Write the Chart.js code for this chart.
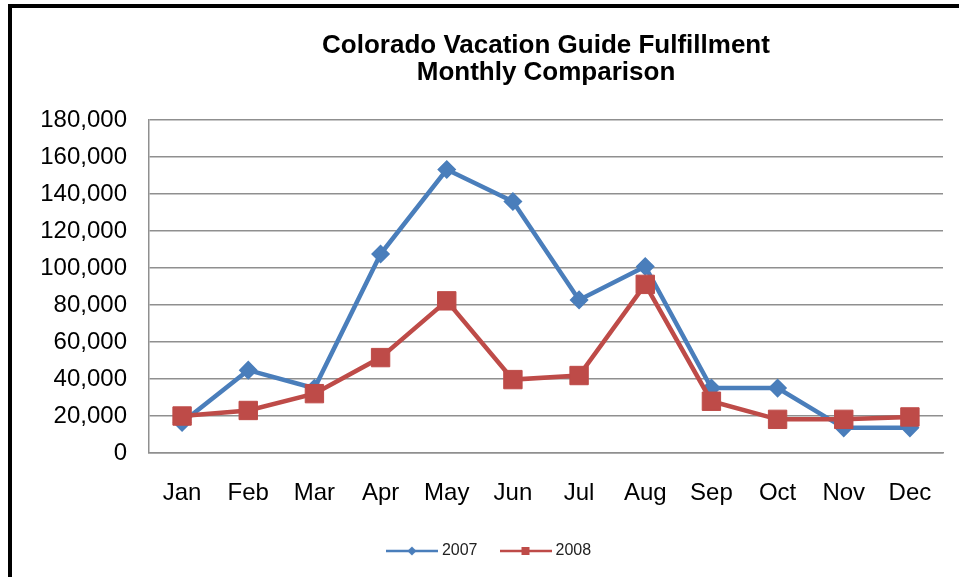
<!DOCTYPE html>
<html>
<head>
<meta charset="utf-8">
<title>Colorado Vacation Guide Fulfillment</title>
<script src="https://cdn.jsdelivr.net/npm/chart.js@4.4.1/dist/chart.umd.min.js"></script>
<style>
    html, body { margin: 0; padding: 0; background: #fff; }
    #wrap { position: relative; width: 959px; height: 577px; overflow: hidden; }
    #frame {
        position: absolute; left: 8px; top: 4px; width: 960px; height: 580px;
        border-top: 4px solid #000; border-left: 4px solid #000;
        pointer-events: none;
    }
    canvas { position: absolute; left: 0; top: 0; }
</style>
</head>
<body>
<div id="wrap">
    <canvas id="myChart" width="959" height="577"></canvas>
    <div id="frame"></div>
</div>
<script>
const months = ['Jan', 'Feb', 'Mar', 'Apr', 'May', 'Jun', 'Jul', 'Aug', 'Sep', 'Oct', 'Nov', 'Dec'];
const series2007 = [16500, 44800, 35000, 107600, 153300, 136000, 82800, 100900, 35100, 35100, 13600, 13600];
const series2008 = [20000, 23000, 32100, 51600, 82300, 39700, 41900, 91200, 28000, 18200, 18200, 19500];
const seriesNames = ['2007', '2008'];
const titleLines = ['Colorado Vacation Guide Fulfillment', 'Monthly Comparison'];
const yMin = 0;
const yMax = 180000;
const yStep = 20000;

const BLUE = '#4A7EBB';
const RED = '#BE4B48';
const GRID = '#8f8f8f';
const FONT = "'Liberation Sans', Arial, sans-serif";
const PAD_LEFT = 38;

// small line + marker picture for the legend, like excel does
function legendIcon(color, marker) {
    const c = document.createElement('canvas');
    c.width = 52;
    c.height = 14;
    const g = c.getContext('2d');
    g.strokeStyle = color;
    g.lineWidth = 2.5;
    g.beginPath();
    g.moveTo(0, 7);
    g.lineTo(52, 7);
    g.stroke();
    g.fillStyle = color;
    g.beginPath();
    if (marker === 'diamond') {
        g.moveTo(26, 2.5);
        g.lineTo(30.5, 7);
        g.lineTo(26, 11.5);
        g.lineTo(21.5, 7);
        g.closePath();
    } else {
        g.rect(22, 3, 8, 8);
    }
    g.fill();
    return c;
}

const icons = [legendIcon(BLUE, 'diamond'), legendIcon(RED, 'square')];

function formatNumber(v) {
    return v.toString().replace(/\B(?=(\d{3})+(?!\d))/g, ',');
}

const ctx = document.getElementById('myChart').getContext('2d');

const myChart = new Chart(ctx, {
    type: 'line',
    data: {
        labels: months,
        datasets: [
            {
                label: seriesNames[0],
                data: series2007,
                borderColor: BLUE,
                backgroundColor: BLUE,
                borderWidth: 4.5,
                pointStyle: 'rectRot',
                pointRadius: 8.5,
                pointBorderWidth: 1.5,
                pointHoverRadius: 8.5,
                tension: 0,
                order: 1
            },
            {
                label: seriesNames[1],
                data: series2008,
                borderColor: RED,
                backgroundColor: RED,
                borderWidth: 4.5,
                pointStyle: 'rect',
                pointRadius: 13,
                pointBorderWidth: 1,
                pointHoverRadius: 13,
                tension: 0,
                order: 0
            }
        ]
    },
    options: {
        responsive: false,
        animation: false,
        layout: {
            padding: { left: PAD_LEFT, right: 16, top: 0, bottom: 8 }
        },
        plugins: {
            title: {
                display: true,
                text: titleLines,
                fullSize: false,
                color: '#000',
                font: { family: FONT, size: 26, weight: 'bold', lineHeight: 1.023 },
                padding: { top: 33, bottom: 34 }
            },
            legend: {
                display: true,
                position: 'bottom',
                labels: {
                    usePointStyle: true,
                    pointStyleWidth: 44,
                    boxHeight: 14,
                    padding: 26,
                    color: '#222',
                    font: { family: FONT, size: 16 },
                    generateLabels: function (chart) {
                        return chart.data.datasets.map(function (ds, i) {
                            return {
                                text: ds.label,
                                pointStyle: icons[i],
                                fillStyle: ds.borderColor,
                                strokeStyle: ds.borderColor,
                                lineWidth: 0,
                                hidden: false,
                                datasetIndex: i,
                                fontColor: '#222'
                            };
                        });
                    }
                }
            },
            tooltip: { enabled: false }
        },
        scales: {
            x: {
                offset: true,
                grid: { display: false, drawTicks: false },
                border: { display: true, color: GRID, width: 1.5 },
                ticks: {
                    color: '#000',
                    padding: 26,
                    maxRotation: 0,
                    font: { family: FONT, size: 24 }
                },
                afterFit: function (scale) {
                    scale.height = 64;
                }
            },
            y: {
                min: yMin,
                max: yMax,
                grid: { color: GRID, lineWidth: 1.5, drawTicks: false },
                border: { display: true, color: GRID, width: 1.5 },
                ticks: {
                    stepSize: yStep,
                    color: '#000',
                    padding: 22,
                    font: { family: FONT, size: 24 },
                    callback: function (value) {
                        return formatNumber(value);
                    }
                },
                afterFit: function (scale) {
                    scale.width = 149 - PAD_LEFT;
                }
            }
        }
    }
});
</script>
</body>
</html>
